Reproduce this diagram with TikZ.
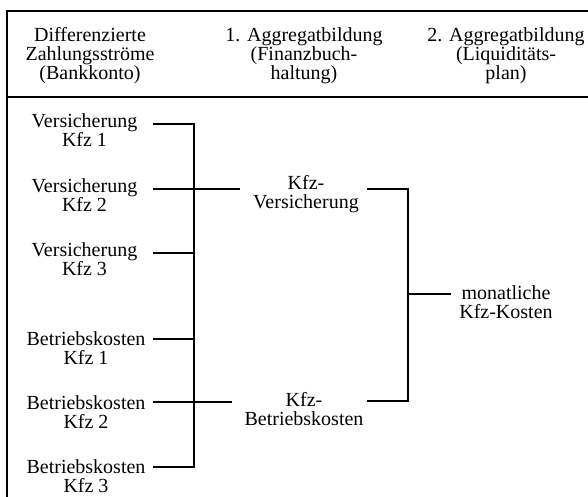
\documentclass[tikz,border=0pt]{standalone}
\usepackage{fontspec}
\setmainfont{Liberation Serif}
\begin{document}
\begin{tikzpicture}[x=1pt,y=-1pt,
  lab/.style={font=\fontsize{20}{19}\selectfont, align=center, inner sep=0pt, anchor=north},
  conn/.style={line width=1.1pt},
  frame/.style={line width=1.2pt}]
\useasboundingbox (0,0) rectangle (588,497);
% frame
\draw[frame] (7,497) -- (7,11) -- (588,11);
\draw[frame] (7,97) -- (588,97);
% header
\node[lab] (h1) at (90,27) {Differenzierte\\Zahlungsströme\\(Bankkonto)};
\node[lab] (h2) at (304,27) {1. Aggregatbildung\\(Finanzbuch-\\haltung)};
\node[lab] (h3) at (506,27) {2. Aggregatbildung\\(Liquiditäts-\\plan)};
% left column
\node[lab] (v1) at (84.5,113) {Versicherung\\Kfz 1};
\node[lab] (v2) at (84.5,178) {Versicherung\\Kfz 2};
\node[lab] (v3) at (84.5,242) {Versicherung\\Kfz 3};
\node[lab] (b1) at (86,331) {Betriebskosten\\Kfz 1};
\node[lab] (b2) at (86,395) {Betriebskosten\\Kfz 2};
\node[lab] (b3) at (86,459) {Betriebskosten\\Kfz 3};
% middle column
\node[lab] (kv) at (306,175) {Kfz-\\Versicherung};
\node[lab] (kb) at (304,392) {Kfz-\\Betriebskosten};
% right column
\node[lab] (mk) at (506,285) {monatliche\\Kfz-Kosten};
% connector points
\coordinate (s1) at (153,124);
\coordinate (s2) at (153,189);
\coordinate (s3) at (153,253);
\coordinate (t1) at (153,339);
\coordinate (t2) at (153,402);
\coordinate (t3) at (153,467);
\coordinate (lbt) at (194,124);
\coordinate (lbb) at (194,467);
\coordinate (kvL) at (240,189);
\coordinate (kbL) at (232,402);
\coordinate (kvR) at (367,189);
\coordinate (kbR) at (367,401);
\coordinate (rbt) at (408,189);
\coordinate (rbb) at (408,401);
\coordinate (rbm) at (408,294);
\coordinate (mkL) at (451,294);
% connectors
\draw[conn] (s1) -- (lbt) -- (lbb) -- (t3);
\draw[conn] (s2) -- (kvL);
\draw[conn] (s3) -- (s3 -| lbt);
\draw[conn] (t1) -- (t1 -| lbt);
\draw[conn] (t2) -- (kbL);
\draw[conn] (kvR) -- (rbt) -- (rbb) -- (kbR);
\draw[conn] (rbm) -- (mkL);
\end{tikzpicture}
\end{document}
